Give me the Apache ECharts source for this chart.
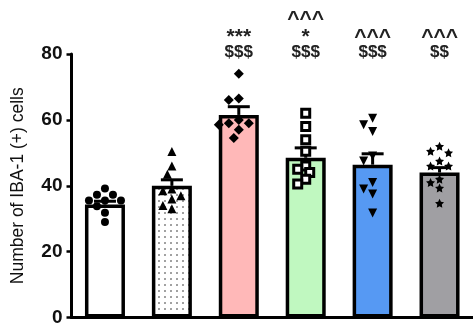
<!DOCTYPE html>
<html>
<head>
<meta charset="utf-8">
<script src="https://cdn.jsdelivr.net/npm/echarts@6/dist/echarts.min.js"></script>
<style>
  html, body { margin: 0; padding: 0; background: #fff; }
  #chart { width: 473px; height: 327px; }
</style>
</head>
<body>
<div id="chart"></div>
<script>
// Group labels (axis labels are hidden in this figure)
const groups = ['Group 1', 'Group 2', 'Group 3', 'Group 4', 'Group 5', 'Group 6'];

// Group means and SEM
const means = [34.3, 40.0, 61.5, 48.5, 46.4, 44.0];
const sems = [1.0, 1.8, 2.5, 3.0, 3.3, 1.5];

// Individual animal counts per group
const pointsG1 = [39.2, 37.3, 37.3, 35.5, 35.5, 35.5, 33.8, 31.8, 29.0];
const pointsG2 = [50.4, 46.0, 43.5, 39.0, 38.5, 37.0, 36.0, 34.0, 33.0];
const pointsG3 = [74.0, 66.5, 66.0, 60.0, 59.0, 59.0, 58.5, 57.0, 54.5];
const pointsG4 = [62.0, 58.0, 54.0, 50.5, 46.0, 45.0, 44.0, 42.0, 40.5];
const pointsG5 = [60.5, 58.5, 56.5, 49.0, 47.5, 41.0, 39.0, 37.5, 31.7];
const pointsG6 = [52.0, 50.5, 50.0, 47.5, 46.0, 46.0, 42.0, 41.0, 39.3, 34.7];

// Significance marks above each bar, listed top line first
const annotations = [[], [], ['***', '$$$'], ['^^^', '*', '$$$'], ['^^^', '$$$'], ['^^^', '$$']];

// Y axis ticks
const yTicks = [0, 20, 40, 60, 80];

const FONT = '"Liberation Sans", Arial, Helvetica, sans-serif';

// Dotted fill for the second bar
function dotPattern() {
  const c = document.createElement('canvas');
  c.width = 6; c.height = 6;
  const ctx = c.getContext('2d');
  ctx.fillStyle = '#fff';
  ctx.fillRect(0, 0, 6, 6);
  ctx.fillStyle = '#7a7a7a';
  ctx.beginPath();
  ctx.arc(3, 3, 0.95, 0, Math.PI * 2);
  ctx.fill();
  return c;
}

// Five-pointed star symbol
function starPath(inner) {
  let d = '';
  for (let k = 0; k < 10; k++) {
    const r = k % 2 === 0 ? 1 : inner;
    const a = -Math.PI / 2 + k * Math.PI / 5;
    const x = (r * Math.cos(a)).toFixed(3), y = (r * Math.sin(a)).toFixed(3);
    d += (k === 0 ? 'M' : 'L') + x + ' ' + y + ' ';
  }
  return 'path://' + d + 'Z';
}

const fills = ['#ffffff', { image: dotPattern(), repeat: 'repeat' }, '#ffb8b8', '#c0f8c0', '#5699f3', '#a09fa3'];
const markers = [
  { symbol: 'circle', size: 8, rotate: 0, color: '#000' },
  { symbol: 'triangle', size: 9, rotate: 0, color: '#000' },
  { symbol: 'diamond', size: 10, rotate: 0, color: '#000' },
  { symbol: 'rect', size: 8, rotate: 0, color: '#fff', border: 3 },
  { symbol: 'triangle', size: 9, rotate: 180, color: '#000' },
  { symbol: starPath(0.5), size: 9, rotate: 0, color: '#000' }
];
const allPoints = [pointsG1, pointsG2, pointsG3, pointsG4, pointsG5, pointsG6];

// Plot area geometry used for the swarm spacing
const gridTop = 54, gridBottom = 9, chartH = 327;
const yMax = 80;
const pxPerUnit = (chartH - gridTop - gridBottom) / yMax;

// Horizontal spread so equal values sit side by side (beeswarm)
function swarmOffsets(values, size) {
  const placed = [];
  const step = size * 0.5;
  return values.map(v => {
    const y = v * pxPerUnit;
    const cands = [0];
    for (let k = 1; k < 12; k++) { cands.push(-k * step, k * step); }
    for (const dx of cands) {
      const ok = placed.every(p => Math.hypot(p.dx - dx, p.y - y) >= size * 0.95);
      if (ok) { placed.push({ dx, y }); return dx; }
    }
    placed.push({ dx: 0, y });
    return 0;
  });
}

const scatterSeries = allPoints.map((vals, gi) => {
  const m = markers[gi];
  const offs = swarmOffsets(vals, m.size);
  return {
    type: 'scatter',
    z: 5,
    symbol: m.symbol,
    symbolSize: m.size,
    symbolRotate: m.rotate,
    itemStyle: { color: m.color, borderColor: '#000', borderWidth: m.border || 0, opacity: 1 },
    data: vals.map((v, k) => ({ value: [gi, v], symbolOffset: [offs[k], 0] })),
    silent: true
  };
});

const chart = echarts.init(document.getElementById('chart'), null, { renderer: 'canvas' });

chart.setOption({
  animation: false,
  backgroundColor: '#fff',
  grid: { left: 71.5, right: -2, top: gridTop, bottom: gridBottom, containLabel: false },
  xAxis: {
    type: 'category',
    data: groups,
    axisLine: { lineStyle: { color: '#000', width: 3 } },
    axisTick: { show: false },
    axisLabel: { show: false },
    z: 1
  },
  yAxis: {
    type: 'value',
    min: yTicks[0],
    max: yTicks[yTicks.length - 1],
    interval: 20,
    name: 'Number of IBA-1 (+) cells',
    nameLocation: 'middle',
    nameGap: 44,
    nameTextStyle: { fontFamily: FONT, fontSize: 17.5, color: '#111' },
    axisLine: { show: true, lineStyle: { color: '#000', width: 3 } },
    axisTick: { show: true, length: 5, lineStyle: { color: '#000', width: 2.5 } },
    axisLabel: { fontFamily: FONT, fontSize: 19, fontWeight: 'bold', color: '#111', margin: 9 },
    splitLine: { show: false }
  },
  series: [
    {
      type: 'bar',
      barWidth: 40,
      z: 2,
      itemStyle: { borderColor: '#000', borderWidth: 3.5 },
      data: means.map((v, i) => ({ value: v, itemStyle: { color: fills[i] } })),
      silent: true
    },
    {
      // Mean + SEM whiskers
      type: 'custom',
      z: 4,
      data: means.map((v, i) => [i, v, v + sems[i]]),
      renderItem: function (params, api) {
        const base = api.coord([api.value(0), api.value(1)]);
        const top = api.coord([api.value(0), api.value(2)]);
        const half = 11;
        return {
          type: 'group',
          children: [
            { type: 'line', shape: { x1: base[0], y1: base[1], x2: top[0], y2: top[1] }, style: { stroke: '#000', lineWidth: 3 } },
            { type: 'line', shape: { x1: top[0] - half, y1: top[1], x2: top[0] + half, y2: top[1] }, style: { stroke: '#000', lineWidth: 3 } }
          ]
        };
      },
      silent: true
    },
    ...scatterSeries,
    {
      // Significance marks, stacked upward from the top of the axis
      type: 'custom',
      z: 6,
      data: groups.map((g, i) => [i, yMax]),
      renderItem: function (params, api) {
        const p = api.coord([api.value(0), api.value(1)]);
        const lines = annotations[params.dataIndex].slice().reverse();
        return {
          type: 'group',
          children: lines.map((txt, r) => {
            const symbolRow = txt[0] === '*' || txt[0] === '^';
            return {
              type: 'text',
              style: {
                text: txt,
                x: p[0],
                y: p[1] - 2 - r * 17.5 + (symbolRow ? 2.5 : 0),
                align: 'center',
                verticalAlign: 'middle',
                font: 'bold ' + (symbolRow ? 21 : 17) + 'px ' + FONT,
                fill: '#222'
              }
            };
          })
        };
      },
      silent: true
    }
  ]
});
</script>
</body>
</html>
